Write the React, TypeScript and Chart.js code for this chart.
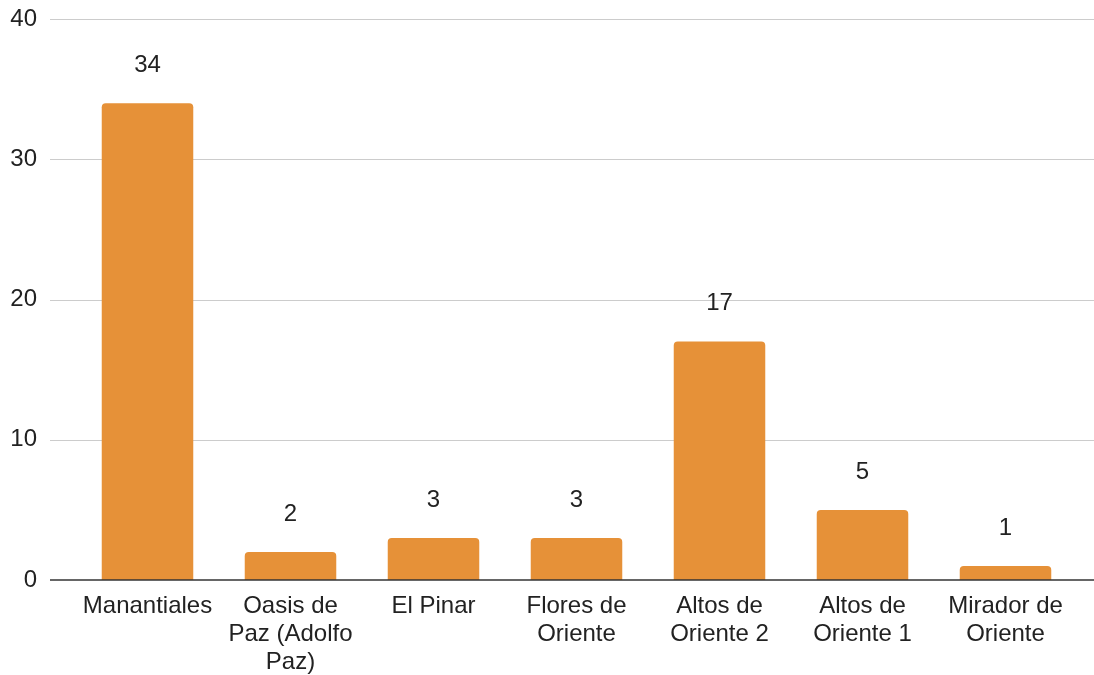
import React, { useEffect, useRef } from "react";
import { Chart, registerables } from "chart.js";

Chart.register(...registerables);

const categories: (string | string[])[] = [
  "Manantiales",
  ["Oasis de", "Paz (Adolfo", "Paz)"],
  "El Pinar",
  ["Flores de", "Oriente"],
  ["Altos de", "Oriente 2"],
  ["Altos de", "Oriente 1"],
  ["Mirador de", "Oriente"],
];
const values: number[] = [34, 2, 3, 3, 17, 5, 1];
const yTicks: number[] = [0, 10, 20, 30, 40];

const FONT = '"Liberation Sans", Arial, sans-serif';

const gridPlugin = {
  id: "fullGrid",
  beforeDatasetsDraw(chart: any) {
    const { ctx } = chart;
    const y = chart.scales.y;
    ctx.save();
    yTicks.forEach((t) => {
      if (t === 0) return;
      const py = Math.round(y.getPixelForValue(t)) + 0.5;
      ctx.beginPath();
      ctx.strokeStyle = "#cccccc";
      ctx.lineWidth = 1;
      ctx.moveTo(50, py);
      ctx.lineTo(chart.width, py);
      ctx.stroke();
    });
    ctx.restore();
  },
  afterDatasetsDraw(chart: any) {
    const { ctx } = chart;
    const y = chart.scales.y;
    const py = y.getPixelForValue(0);
    ctx.save();
    ctx.beginPath();
    ctx.strokeStyle = "#333333";
    ctx.lineWidth = 1.5;
    ctx.moveTo(50, py);
    ctx.lineTo(chart.width, py);
    ctx.stroke();
    ctx.restore();
  },
};

const labelPlugin = {
  id: "valueLabels",
  afterDatasetsDraw(chart: any) {
    const { ctx } = chart;
    const meta = chart.getDatasetMeta(0);
    ctx.save();
    ctx.font = `24px ${FONT}`;
    ctx.fillStyle = "#222222";
    ctx.textAlign = "center";
    ctx.textBaseline = "middle";
    meta.data.forEach((bar: any, i: number) => {
      ctx.fillText(String(values[i]), bar.x, bar.y - 38);
    });
    ctx.restore();
  },
};

export default function App() {
  const ref = useRef<HTMLCanvasElement | null>(null);
  useEffect(() => {
    if (!ref.current) return;
    const chart = new Chart(ref.current, {
      type: "bar",
      data: {
        labels: categories,
        datasets: [
          {
            data: values,
            backgroundColor: "#e69138",
            borderRadius: { topLeft: 4, topRight: 4, bottomLeft: 0, bottomRight: 0 },
            borderSkipped: "bottom",
            barPercentage: 0.64,
            categoryPercentage: 1,
          },
        ],
      },
      options: {
        animation: false,
        responsive: false,
        maintainAspectRatio: false,
        layout: { padding: { top: 19, right: 17, left: 0, bottom: 0 } },
        plugins: { legend: { display: false }, tooltip: { enabled: false } },
        scales: {
          x: {
            grid: { display: false, drawTicks: false },
            border: { display: false },
            ticks: {
              color: "#222222",
              font: { family: FONT, size: 24, lineHeight: 1.17 },
              padding: 12,
              maxRotation: 0,
              autoSkip: false,
            },
            afterFit(scale: any) {
              scale.height = 95;
              scale.paddingTop = 0;
              scale.paddingBottom = 0;
            },
          },
          y: {
            min: 0,
            max: 40,
            grid: { display: false, drawTicks: false },
            border: { display: false },
            ticks: {
              stepSize: 10,
              color: "#222222",
              font: { family: FONT, size: 24 },
              padding: 39,
            },
            afterFit(scale: any) {
              scale.width = 76;
              scale.paddingTop = 0;
              scale.paddingBottom = 0;
            },
          },
        },
      },
      plugins: [gridPlugin, labelPlugin],
    });
    return () => chart.destroy();
  }, []);
  return (
    <div style={{ position: "fixed", left: 0, top: 0, width: 1094, height: 675, background: "#fff" }}>
      <canvas ref={ref} width={1094} height={675} style={{ width: 1094, height: 675 }} />
    </div>
  );
}
